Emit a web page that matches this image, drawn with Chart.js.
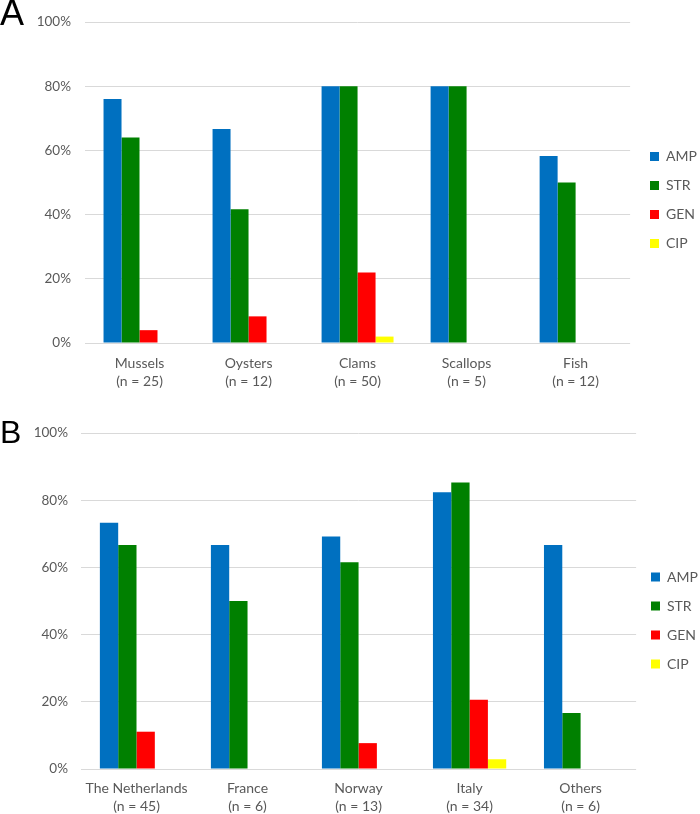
<!DOCTYPE html>
<html>
<head>
<meta charset="utf-8">
<script src="https://cdn.jsdelivr.net/npm/chart.js@4.4.1/dist/chart.umd.min.js"></script>
<style>
    body { margin: 0; background: #fff; }
    .wrap { position: relative; width: 700px; height: 814px; }
    .panel { position: absolute; left: 0; width: 700px; }
    .letter { position: absolute; left: 0; font-family: 'Liberation Sans', Arial, sans-serif; font-size: 36px; color: #000; line-height: 1; }
</style>
</head>
<body>
<div class="wrap">
    <div class="panel" style="top:0; height:400px;"><canvas id="chartA" width="700" height="400"></canvas></div>
    <div class="panel" style="top:400px; height:414px;"><canvas id="chartB" width="700" height="414"></canvas></div>
    <div class="letter" style="top:-5px;">A</div>
    <div class="letter" style="top:416px; font-size:32px;">B</div>
</div>
<script>
// Panel A - by shellfish type
const hostLabels = [['Mussels', '(n = 25)'], ['Oysters', '(n = 12)'], ['Clams', '(n = 50)'], ['Scallops', '(n = 5)'], ['Fish', '(n = 12)']];
const hostAMP = [76, 66.7, 80, 80, 58.3];
const hostSTR = [64, 41.7, 80, 80, 50];
const hostGEN = [4, 8.3, 22, 0, 0];
const hostCIP = [0, 0, 2, 0, 0];

// Panel B - by country
const countryLabels = [['The Netherlands', '(n = 45)'], ['France', '(n = 6)'], ['Norway', '(n = 13)'], ['Italy', '(n = 34)'], ['Others', '(n = 6)']];
const countryAMP = [73.3, 66.7, 69.2, 82.4, 66.7];
const countrySTR = [66.7, 50, 61.5, 85.3, 16.7];
const countryGEN = [11.1, 0, 7.7, 20.6, 0];
const countryCIP = [0, 0, 0, 2.9, 0];

const seriesNames = ['AMP', 'STR', 'GEN', 'CIP'];
const seriesColors = ['#0070C0', '#008000', '#FF0000', '#FFFF00'];
const yTicks = [0, 20, 40, 60, 80, 100];

const textColor = '#595959';
const fontFamily = "Lato, 'Open Sans', sans-serif";
const legendPad = 15;

// moves the legend block to where it sits in the figure
const legendShift = {
    id: 'legendShift',
    afterLayout(chart, args, opts) {
        const lg = chart.legend;
        const dx = opts.x - (lg.left + legendPad);
        lg.left += dx;
        lg.right += dx;
        lg.top += opts.dy;
        lg.bottom += opts.dy;
    }
};

function makeChart(id, labels, series, opts) {
    const ctx = document.getElementById(id).getContext('2d');
    return new Chart(ctx, {
        type: 'bar',
        data: {
            labels: labels,
            datasets: series.map((data, i) => ({
                label: seriesNames[i],
                data: data,
                backgroundColor: seriesColors[i],
                borderWidth: 0,
                categoryPercentage: 0.66,
                barPercentage: 1
            }))
        },
        plugins: [legendShift],
        options: {
            responsive: false,
            animation: false,
            layout: { padding: { top: opts.top, right: opts.right, left: 0, bottom: 0 } },
            plugins: {
                tooltip: { enabled: false },
                legendShift: { x: opts.legendX, dy: opts.legendDy },
                legend: {
                    position: 'right',
                    labels: {
                        boxWidth: 9,
                        boxHeight: 9,
                        padding: legendPad,
                        color: textColor,
                        font: { family: fontFamily, size: 14 }
                    }
                }
            },
            scales: {
                x: {
                    grid: { display: false, drawTicks: false },
                    border: { display: false },
                    ticks: {
                        color: textColor,
                        font: { family: fontFamily, size: 14, lineHeight: 1.3 },
                        padding: opts.xPad,
                        maxRotation: 0,
                        autoSkip: false
                    },
                    afterFit: axis => { axis.height = opts.xHeight; }
                },
                y: {
                    min: 0,
                    max: 100,
                    afterBuildTicks: axis => { axis.ticks = yTicks.map(v => ({ value: v })); },
                    grid: { color: '#D9D9D9', lineWidth: 1, drawTicks: false },
                    border: { display: false },
                    ticks: {
                        color: textColor,
                        font: { family: fontFamily, size: 13.5 },
                        padding: opts.tickPad,
                        callback: v => v + '%'
                    },
                    afterFit: axis => { axis.width = opts.yWidth; }
                }
            }
        }
    });
}

makeChart('chartA', hostLabels, [hostAMP, hostSTR, hostGEN, hostCIP],
    { top: 20, right: -2, xHeight: 57, yWidth: 85, tickPad: 14, xPad: 11, legendX: 650, legendDy: -10 });
makeChart('chartB', countryLabels, [countryAMP, countrySTR, countryGEN, countryCIP],
    { top: 33, right: -8, xHeight: 45, yWidth: 81, tickPad: 13, xPad: 10, legendX: 651, legendDy: -3 });
</script>
</body>
</html>
